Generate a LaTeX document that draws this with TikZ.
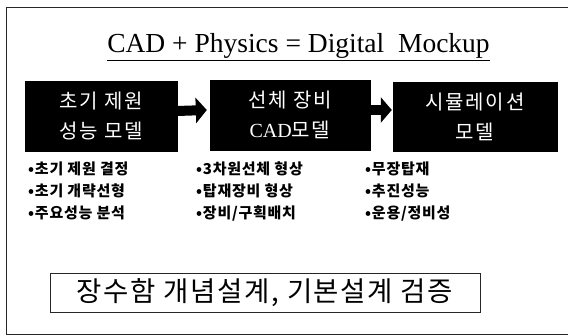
\documentclass[tikz,border=0pt]{standalone}
\usepackage{fontspec}
\setmainfont{Liberation Serif}
\newfontfamily\krbox{Noto Sans CJK KR}[LetterSpace=9]
\newfontfamily\kritem{Noto Sans CJK KR}[LetterSpace=5]
\newfontfamily\krbig{Noto Sans CJK KR}[LetterSpace=6]
\usetikzlibrary{arrows.meta}
\tikzset{
  modelbox/.style={fill=black, draw=black, inner sep=0pt, text=white, align=center,
    font=\krbox\fontsize{20}{30}\selectfont},
  blockarrow/.style={line width=10pt, -{Triangle[length=11pt,width=25pt]}},
  item/.style={anchor=base west, inner sep=0pt, font=\kritem\bfseries\fontsize{15}{16}\selectfont},
  frame/.style={draw=black!85, line width=0.9pt},
}
\begin{document}
\begin{tikzpicture}[x=1pt,y=-1pt]
\useasboundingbox (0,0) rectangle (568,336);
\draw[frame] (6,7) -- (568,7);
\draw[frame] (6,7) -- (6,334) -- (568,334);
\node[anchor=base, inner sep=0pt, font=\fontsize{27.5}{30}\selectfont] (title) at (298.5,53) {\underline{CAD + Physics = Digital\ \ Mockup}};
\node[modelbox, minimum width=152pt, minimum height=70pt] (b1) at (101,116) {초기 제원\\성능 모델};
\node[modelbox, minimum width=160pt, minimum height=70pt] (b2) at (290,115) {선체 장비\\{\rmfamily CAD}모델};
\node[modelbox, minimum width=164pt, minimum height=69pt] (b3) at (475,116.5) {시뮬레이션\\모델};
\draw[blockarrow] ([yshift=5pt]b1.east) -- ([yshift=5pt,xshift=-3pt]b2.west);
\draw[blockarrow] ([yshift=5pt]b2.east) -- ([yshift=6.5pt,xshift=-1pt]b3.west);
\node[item] (i11) at (28,175) {•초기 제원 결정};
\node[item] (i12) at (28,197) {•초기 개략선형};
\node[item] (i13) at (28,219) {•주요성능 분석};
\node[item] (i21) at (196,175) {•3차원선체 형상};
\node[item] (i22) at (196,197) {•탑재장비 형상};
\node[item] (i23) at (196,219) {•장비/구획배치};
\node[item] (i31) at (365,175) {•무장탑재};
\node[item] (i32) at (365,197) {•추진성능};
\node[item] (i33) at (365,219) {•운용/정비성};
\node[draw=black!85, line width=0.7pt, minimum width=430pt, minimum height=39pt, inner sep=0pt,
  font=\krbig\fontsize{27.5}{30}\selectfont] (verify) at (265,292.5) {장수함 개념설계, 기본설계 검증};
\end{tikzpicture}
\end{document}
